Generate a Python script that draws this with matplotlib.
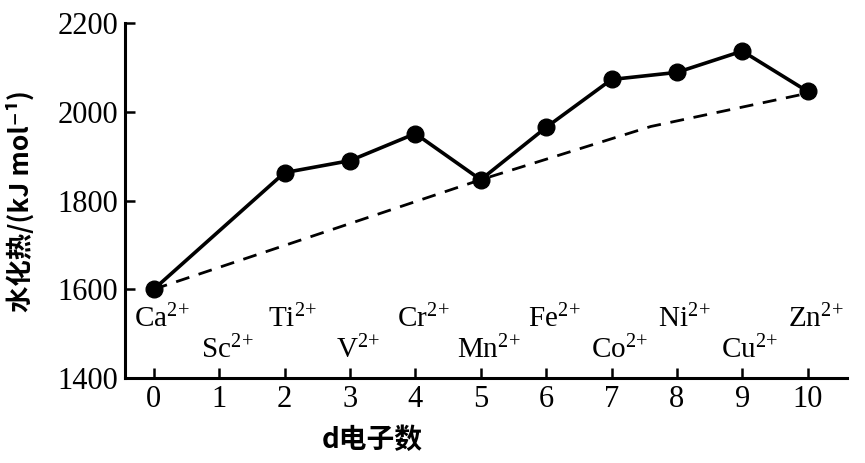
import matplotlib
matplotlib.use("Agg")
import matplotlib.pyplot as plt

# d electron count, ions and hydration heat (kJ/mol)
d_count = [0, 2, 3, 4, 5, 6, 7, 8, 9, 10]
heat = [1600, 1863, 1890, 1951, 1847, 1965, 2073, 2089, 2137, 2046]

# dashed reference curve through Ca, Mn, Zn
ref_x = [0, 5, 7.6, 10]
ref_y = [1600, 1847, 1967, 2042]

ion_x = list(range(11))
ions = ["Ca", "Sc", "Ti", "V", "Cr", "Mn", "Fe", "Co", "Ni", "Cu", "Zn"]
x_ticks = list(range(11))
y_ticks = [1400, 1600, 1800, 2000, 2200]

plt.rcParams['mathtext.fontset'] = 'custom'
plt.rcParams['mathtext.rm'] = 'Liberation Serif'
plt.rcParams['mathtext.it'] = 'Liberation Serif:italic'

fig = plt.figure(figsize=(8.65, 4.63), dpi=100)
ax = fig.add_axes([0.1445, 0.1836, 0.9791 - 0.1445, 0.950 - 0.1836])

ax.plot(ref_x, ref_y, color='black', lw=2.0, dashes=(5, 3.5))
ax.plot(d_count, heat, color='black', lw=2.6, marker='o', markersize=12)

# ion labels alternate between two rows
for i, (x, name) in enumerate(zip(ion_x, ions)):
    y = 1533 if i % 2 == 0 else 1462
    ax.text(x + 0.12, y, name + r"$^{\mathrm{2\!+}}$", ha='center', va='center',
            fontsize=21, family='Liberation Serif')

ax.set_xlim(-0.44, 10.6)
ax.set_ylim(1400, 2200)
ax.set_xticks(x_ticks)
ax.set_yticks(y_ticks)
ax.tick_params(direction='in', length=7, width=1.8, labelsize=22, pad=5)
for lab in ax.get_xticklabels() + ax.get_yticklabels():
    lab.set_family('Liberation Serif')
for s in ['top', 'right']:
    ax.spines[s].set_visible(False)
for s in ['left', 'bottom']:
    ax.spines[s].set_linewidth(2.2)

ax.set_xlabel("d电子数", fontsize=20, fontweight='bold',
              family=['Noto Sans CJK SC', 'DejaVu Sans'])
ax.xaxis.set_label_coords(0.343, -0.135)
ax.set_ylabel("水化热/(kJ mol⁻¹)", fontsize=19, fontweight='bold',
              family=['Noto Sans CJK SC', 'DejaVu Sans'])
ax.yaxis.set_label_coords(-0.125, 0.5)

fig.savefig("out.png", dpi=100)
